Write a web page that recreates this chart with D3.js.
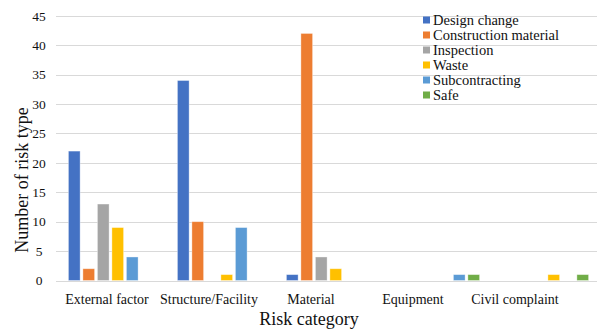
<!DOCTYPE html>
<html>
<head>
<meta charset="utf-8">
<script src="https://cdn.jsdelivr.net/npm/d3@7"></script>
<style>
  html, body { margin: 0; padding: 0; background: #fff; }
  svg text { font-family: "Liberation Serif", "DejaVu Serif", serif; }
</style>
</head>
<body>
<svg id="chart" width="597" height="330"></svg>
<script>
// Risk categories along the x axis
const categories = ["External factor", "Structure/Facility", "Material", "Equipment", "Civil complaint"];

// Risk types (one bar each per category)
const seriesNames = ["Design change", "Construction material", "Inspection", "Waste", "Subcontracting", "Safe"];
const seriesColors = ["#4472C4", "#ED7D31", "#A5A5A5", "#FFC000", "#5B9BD5", "#70AD47"];

// Counts per risk type, in category order
const designChange         = [22, 34, 1, 0, 0];
const constructionMaterial = [2, 10, 42, 0, 0];
const inspection           = [13, 0, 4, 0, 0];
const waste                = [9, 1, 2, 0, 1];
const subcontracting       = [4, 9, 0, 1, 0];
const safe                 = [0, 0, 0, 1, 1];
const seriesValues = [designChange, constructionMaterial, inspection, waste, subcontracting, safe];

const yTicks = [0, 5, 10, 15, 20, 25, 30, 35, 40, 45];

const FONT = "'Liberation Serif', 'DejaVu Serif', serif";
const INK = "#111";

const svg = d3.select("#chart");
const W = 597;

const plot = { left: 56, right: 601, top: 15.8, bottom: 280.5 };

const y = d3.scaleLinear().domain([0, 45]).range([plot.bottom, plot.top]);

const x0 = d3.scaleBand().domain(categories).range([plot.left, plot.right]).padding(0);
const x1 = d3.scaleBand().domain(seriesNames).range([0, x0.bandwidth()])
  .paddingInner(0.193).paddingOuter(0.856);

// category labels sit on their own, slightly narrower band
const xLabel = d3.scaleBand().domain(categories).range([plot.left, 566]).padding(0);

// horizontal gridlines
svg.append("g")
  .selectAll("line")
  .data(yTicks)
  .join("line")
  .attr("x1", plot.left)
  .attr("x2", W)
  .attr("y1", d => Math.round(y(d)) + 0.5)
  .attr("y2", d => Math.round(y(d)) + 0.5)
  .attr("stroke", "#d9d9d9")
  .attr("stroke-width", 1);

// y tick labels
svg.append("g")
  .selectAll("text")
  .data(yTicks)
  .join("text")
  .attr("x", 39)
  .attr("y", d => y(d))
  .attr("dy", "0.35em")
  .attr("text-anchor", "middle")
  .style("font-family", FONT)
  .style("font-size", "13.5px")
  .attr("fill", INK)
  .text(d => d);

// bars
const rows = [];
categories.forEach((c, ci) => {
  seriesNames.forEach((s, si) => {
    rows.push({ cat: c, series: s, color: seriesColors[si], value: seriesValues[si][ci] });
  });
});

svg.append("g")
  .selectAll("rect")
  .data(rows.filter(d => d.value > 0))
  .join("rect")
  .attr("x", d => x0(d.cat) + x1(d.series))
  .attr("y", d => y(d.value))
  .attr("width", x1.bandwidth())
  .attr("height", d => y(0) - y(d.value))
  .attr("fill", d => d.color)
  .attr("stroke", "#ffffff")
  .attr("stroke-opacity", 0.45)
  .attr("stroke-width", 0.8);

// x axis labels
const xAxis = d3.axisBottom(xLabel).tickSize(0).tickPadding(0);
const gx = svg.append("g")
  .attr("transform", `translate(0,${plot.bottom})`)
  .call(xAxis);
gx.attr("font-family", null).attr("font-size", null);
gx.select(".domain").remove();
gx.selectAll("text")
  .attr("y", 23.5)
  .attr("dy", 0)
  .style("font-family", FONT)
  .style("font-size", "14px")
  .attr("fill", INK);

// axis titles
svg.append("text")
  .attr("x", 309)
  .attr("y", 325)
  .attr("text-anchor", "middle")
  .style("font-family", FONT)
  .style("font-size", "18px")
  .attr("fill", INK)
  .text("Risk category");

svg.append("text")
  .attr("transform", "translate(28,180) rotate(-90)")
  .attr("text-anchor", "middle")
  .style("font-family", FONT)
  .style("font-size", "18px")
  .attr("fill", INK)
  .text("Number of risk type");

// legend
const legend = svg.append("g").attr("transform", "translate(423,20)");
const items = legend.selectAll("g")
  .data(seriesNames)
  .join("g")
  .attr("transform", (d, i) => `translate(0,${i * 15})`);
items.append("rect")
  .attr("x", 0)
  .attr("y", -3.5)
  .attr("width", 7)
  .attr("height", 7)
  .attr("fill", (d, i) => seriesColors[i]);
items.append("text")
  .attr("x", 10)
  .attr("y", 0)
  .attr("dy", "0.35em")
  .style("font-family", FONT)
  .style("font-size", "14.5px")
  .attr("fill", INK)
  .text(d => d);
</script>
</body>
</html>
